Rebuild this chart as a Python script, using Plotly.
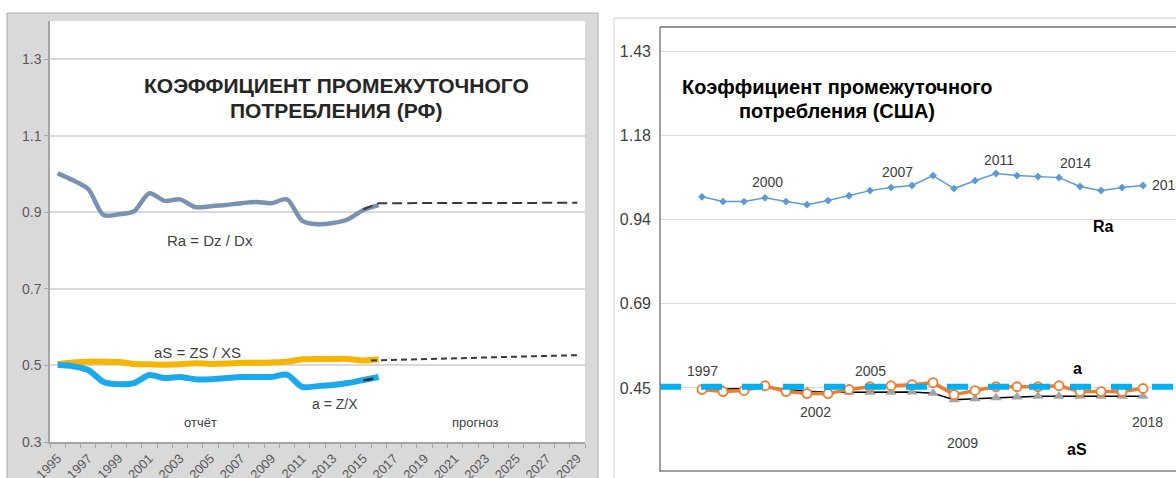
import plotly.graph_objects as go

W, H = 1176, 478

# ---------------- Data: Russia (left chart) ----------------
years_rf = list(range(1995, 2017))
ra_rf = [1.002, 0.984, 0.961, 0.893, 0.895, 0.903, 0.950, 0.930, 0.934, 0.914, 0.916,
         0.919, 0.924, 0.927, 0.924, 0.934, 0.878, 0.869, 0.872, 0.882, 0.906, 0.919]
as_rf = [0.504, 0.508, 0.510, 0.510, 0.509, 0.504, 0.503, 0.502, 0.503, 0.506, 0.504,
         0.505, 0.507, 0.507, 0.508, 0.510, 0.516, 0.517, 0.517, 0.517, 0.513, 0.516]
a_rf = [0.501, 0.498, 0.488, 0.457, 0.451, 0.454, 0.475, 0.467, 0.470, 0.464, 0.464,
        0.467, 0.470, 0.470, 0.470, 0.476, 0.444, 0.446, 0.449, 0.454, 0.462, 0.470]
# forecasts (dashed)
ra_fc_years = [2015, 2016, 2029]
ra_fc = [0.908, 0.924, 0.925]
as_fc_years = [2015.5, 2029]
as_fc = [0.513, 0.527]
a_fc_years = [2015, 2016]
a_fc = [0.461, 0.468]

rf_label_years = list(range(1995, 2030, 2))
rf_ytick_vals = [0.3, 0.5, 0.7, 0.9, 1.1, 1.3]
rf_ytick_text = ["0.3", "0.5", "0.7", "0.9", "1.1", "1.3"]

# ---------------- Data: USA (right chart) ----------------
years_us = list(range(1997, 2019))
ra_us = [1.004, 0.990, 0.990, 1.001, 0.990, 0.981, 0.993, 1.007, 1.022, 1.031, 1.037,
         1.066, 1.028, 1.051, 1.072, 1.066, 1.063, 1.060, 1.034, 1.022, 1.031, 1.037]
a_us = [0.441, 0.435, 0.438, 0.452, 0.435, 0.429, 0.429, 0.441, 0.449, 0.452, 0.455,
        0.461, 0.426, 0.438, 0.449, 0.449, 0.449, 0.452, 0.435, 0.435, 0.435, 0.444]
as_us = [0.440, 0.441, 0.444, 0.449, 0.441, 0.436, 0.433, 0.433, 0.433, 0.433, 0.434,
         0.430, 0.411, 0.414, 0.417, 0.419, 0.421, 0.421, 0.421, 0.421, 0.421, 0.421]
avg_years = [1995, 2020]
avg_us = [0.449, 0.449]

us_ytick_vals = [0.2, 0.4457, 0.6914, 0.9371, 1.1828, 1.4285]
us_ytick_text = ["0.20", "0.45", "0.69", "0.94", "1.18", "1.43"]


def fx(p):
    return p / W


def fy(p):
    return 1 - p / H


FONT = "Liberation Sans, Arial, sans-serif"

fig = go.Figure()

# ---- left chart traces ----
fig.add_trace(go.Scatter(x=years_rf, y=ra_rf, mode="lines",
                         line=dict(color="#7892b4", width=4.5, shape="spline", smoothing=0.8),
                         xaxis="x", yaxis="y", showlegend=False))
fig.add_trace(go.Scatter(x=years_rf, y=as_rf, mode="lines",
                         line=dict(color="#f7b500", width=6, shape="spline", smoothing=0.8),
                         xaxis="x", yaxis="y", showlegend=False))
fig.add_trace(go.Scatter(x=years_rf, y=a_rf, mode="lines",
                         line=dict(color="#1aa9ec", width=6, shape="spline", smoothing=0.8),
                         xaxis="x", yaxis="y", showlegend=False))
fig.add_trace(go.Scatter(x=ra_fc_years, y=ra_fc, mode="lines",
                         line=dict(color="#3a3a3a", width=2, dash="10px,5px"),
                         xaxis="x", yaxis="y", showlegend=False))
fig.add_trace(go.Scatter(x=as_fc_years, y=as_fc, mode="lines",
                         line=dict(color="#3a3a3a", width=2, dash="6px,4px"),
                         xaxis="x", yaxis="y", showlegend=False))
fig.add_trace(go.Scatter(x=a_fc_years, y=a_fc, mode="lines",
                         line=dict(color="#2a2a2a", width=2.5, dash="10px,20px"),
                         xaxis="x", yaxis="y", showlegend=False))

# ---- right chart traces ----
fig.add_trace(go.Scatter(x=years_us, y=ra_us, mode="lines+markers",
                         line=dict(color="#5b9bd5", width=1.5),
                         marker=dict(symbol="diamond", size=6, color="#5b9bd5"),
                         xaxis="x2", yaxis="y2", showlegend=False))
fig.add_trace(go.Scatter(x=years_us, y=as_us, mode="lines+markers",
                         line=dict(color="#000000", width=1.5),
                         marker=dict(symbol="triangle-up", size=10, color="#a5a5a5"),
                         xaxis="x2", yaxis="y2", showlegend=False))
fig.add_trace(go.Scatter(x=years_us, y=a_us, mode="lines+markers",
                         line=dict(color="#ed7d31", width=3.5),
                         marker=dict(symbol="circle", size=9, color="white",
                                     line=dict(color="#ed7d31", width=1.8)),
                         xaxis="x2", yaxis="y2", showlegend=False))
fig.add_trace(go.Scatter(x=avg_years, y=avg_us, mode="lines",
                         line=dict(color="#00b0f0", width=6, dash="21px,20px"),
                         xaxis="x2", yaxis="y2", showlegend=False))

# ---- shapes (frames) ----
shapes = [
    # left gray frame
    dict(type="rect", xref="paper", yref="paper", x0=fx(7), x1=fx(598), y0=fy(490), y1=fy(13),
         fillcolor="#d9d9d9", line=dict(color="#b0b0b0", width=1), layer="below"),
    dict(type="rect", xref="paper", yref="paper", x0=fx(50), x1=fx(585), y0=fy(442), y1=fy(21),
         fillcolor="white", line=dict(width=0), layer="below"),
    # right outer frame
    dict(type="rect", xref="paper", yref="paper", x0=fx(614), x1=fx(1200), y0=fy(500), y1=fy(18),
         fillcolor="rgba(0,0,0,0)", line=dict(color="#d0d0d0", width=1), layer="below"),
    # right plot borders
    dict(type="line", xref="paper", yref="paper", x0=fx(660), x1=fx(660), y0=fy(472), y1=fy(27),
         line=dict(color="#808080", width=1.5)),
    dict(type="line", xref="paper", yref="paper", x0=fx(660), x1=fx(1180), y0=fy(27), y1=fy(27),
         line=dict(color="#6e6e6e", width=1.5)),
    dict(type="line", xref="paper", yref="paper", x0=fx(660), x1=fx(1180), y0=fy(471), y1=fy(471),
         line=dict(color="#808080", width=1.5)),
]

annotations = []


def pann(text, x, y, size, color="#404040", bold=False, xanchor="center"):
    annotations.append(dict(text=("<b>%s</b>" % text) if bold else text,
                            xref="paper", yref="paper", x=fx(x), y=fy(y),
                            xanchor=xanchor, yanchor="middle", showarrow=False,
                            font=dict(family=FONT, size=size, color=color)))


# left titles and labels
pann("КОЭФФИЦИЕНТ ПРОМЕЖУТОЧНОГО", 336, 86, 21, "#262626", True)
pann("ПОТРЕБЛЕНИЯ (РФ)", 336, 111, 21, "#262626", True)
pann("Ra = Dz / Dx", 210, 240, 15, "#404040")
pann("aS = ZS / XS", 197, 352, 15, "#404040")
pann("отчёт", 200, 422, 13, "#404040")
pann("a = Z/X", 335, 404, 14, "#404040")
pann("прогноз", 475, 422, 13, "#404040")

# right titles and labels
pann("Коэффициент промежуточного", 837, 87, 20, "#000000", True)
pann("потребления (США)", 837, 111, 20, "#000000", True)
pann("Ra", 1103, 226, 16, "#000000", True)
pann("a", 1077, 368, 16, "#000000", True)
pann("aS", 1077, 449, 16, "#000000", True)

# year data labels on the US chart, attached to the series points
series_us = {"ra": ra_us, "a": a_us, "as": as_us}
us_labels = [
    ("2000", "ra", 2000, 2, 16, "center"),
    ("2007", "ra", 2007, -15, 13, "center"),
    ("2011", "ra", 2011, 3, 14, "center"),
    ("2014", "ra", 2014, 16, 15, "center"),
    ("2018", "ra", 2018, 7, 0, "left"),
    ("1997", "a", 1997, 0, 19, "center"),
    ("2005", "a", 2005, 0, 16, "center"),
    ("2002", "as", 2002, 8, -21, "center"),
    ("2009", "as", 2009, 8, -43, "center"),
    ("2018", "as", 2018, 4, -26, "center"),
]
for text, key, yr, dx, dy, anchor in us_labels:
    annotations.append(dict(text=text, xref="x2", yref="y2", x=yr,
                            y=series_us[key][years_us.index(yr)],
                            xshift=dx, yshift=dy, xanchor=anchor, yanchor="middle",
                            showarrow=False, font=dict(family=FONT, size=14, color="#404040")))

fig.update_layout(
    width=W, height=H,
    margin=dict(l=0, r=0, t=0, b=0, autoexpand=False),
    paper_bgcolor="white", plot_bgcolor="rgba(0,0,0,0)",
    shapes=shapes, annotations=annotations,
    xaxis=dict(domain=[fx(50), fx(585)], range=[1994.5, 2029.5], automargin=False,
               tickmode="array", tickvals=rf_label_years,
               ticktext=[str(v) for v in rf_label_years],
               ticks="", tickangle=-45, ticklabelstandoff=2,
               tickfont=dict(family=FONT, size=13, color="#595959"),
               showgrid=False, zeroline=False, showline=True,
               linecolor="#a6a6a6", linewidth=1.5, anchor="y",
               minor=dict(tickmode="array",
                          tickvals=[v - 0.5 for v in range(1995, 2031)],
                          ticks="outside", ticklen=4, tickcolor="#a6a6a6",
                          tickwidth=1, showgrid=False)),
    yaxis=dict(domain=[fy(442), fy(21)], range=[0.3, 1.4], automargin=False,
               tickmode="array", tickvals=rf_ytick_vals, ticktext=rf_ytick_text,
               showgrid=True, gridcolor="#d9d9d9", gridwidth=2,
               zeroline=False, showline=True, linecolor="#a6a6a6", linewidth=1.5,
               ticks="outside", ticklen=4, tickcolor="#a6a6a6",
               tickfont=dict(family=FONT, size=14, color="#595959"), anchor="x"),
    xaxis2=dict(domain=[fx(660), 1], range=[1995, 2019.57], automargin=False,
                showticklabels=False, showgrid=False, zeroline=False,
                showline=False, anchor="y2"),
    yaxis2=dict(domain=[fy(472), fy(27)], range=[0.2, 1.5], automargin=False,
                tickmode="array", tickvals=us_ytick_vals, ticktext=us_ytick_text,
                showgrid=True, gridcolor="#d9d9d9", gridwidth=1,
                zeroline=False, showline=False, ticks="",
                ticklabelstandoff=8,
                tickfont=dict(family=FONT, size=16, color="#404040"), anchor="x2"),
)

fig.write_html("out.html", config={"displayModeBar": False},
               post_script="document.body.style.margin='0';document.body.style.overflow='hidden';")
